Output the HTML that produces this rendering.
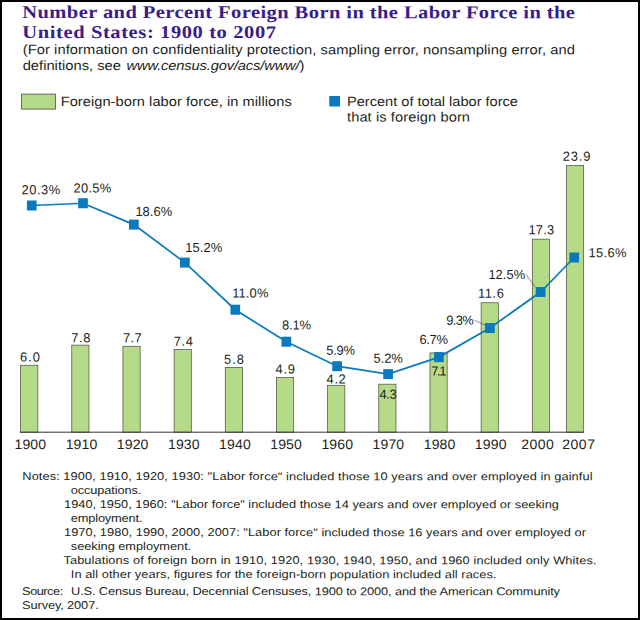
<!DOCTYPE html>
<html><head><meta charset="utf-8"><title>Foreign Born in the Labor Force</title>
<style>
html,body{margin:0;padding:0;background:#fff;}
body{width:640px;height:620px;overflow:hidden;}
svg{display:block;}
text{font-family:"Liberation Sans",sans-serif;fill:#231f20;text-rendering:geometricPrecision;}
.t{font-family:"Liberation Serif",serif;font-weight:bold;fill:#3a1d8a;font-size:18px;text-rendering:geometricPrecision;}
.s{font-size:13.3px;}
.l{font-size:13.3px;}
.d{font-size:13.1px;}
.y{font-size:13.7px;}
.n{font-size:11.3px;}
</style></head><body>
<svg width="640" height="620" viewBox="0 0 640 620">
<rect x="0" y="0" width="640" height="620" fill="#fff"/>
<text class="t" transform="translate(22.30,18.00) rotate(0.03) scale(1.140,1)" textLength="484.82" lengthAdjust="spacing">Number and Percent Foreign Born in the Labor Force in the</text>
<text class="t" transform="translate(22.30,38.00) rotate(0.03) scale(1.140,1)" textLength="222.54" lengthAdjust="spacing">United States: 1900 to 2007</text>
<text class="s" transform="translate(22.70,54.00) rotate(0.03) scale(1.105,1)" textLength="499.82" lengthAdjust="spacing">(For information on confidentiality protection, sampling error, nonsampling error, and</text>
<text class="s" transform="translate(22.70,70.00) rotate(0.03) scale(1.105,1)" textLength="88.87" lengthAdjust="spacing">definitions, see</text>
<text class="s" transform="translate(126.60,70.00) rotate(0.03) scale(1.105,1)" textLength="160.90" lengthAdjust="spacing" font-style="italic">www.census.gov/acs/www/<tspan font-style="normal">)</tspan></text>
<rect x="21.6" y="94.1" width="33.8" height="15" fill="#b5da88" stroke="#4a4a4a" stroke-width="0.8"/>
<text class="l" transform="translate(60.70,106.00) rotate(0.03) scale(1.100,1)" textLength="210.00" lengthAdjust="spacing">Foreign-born labor force, in millions</text>
<rect x="329.25" y="96" width="10.75" height="10.5" fill="#0b79bd"/>
<text class="l" transform="translate(347.00,106.00) rotate(0.03) scale(1.100,1)" textLength="155.45" lengthAdjust="spacing">Percent of total labor force</text>
<text class="l" transform="translate(347.00,121.50) rotate(0.03) scale(1.100,1)" textLength="111.82" lengthAdjust="spacing">that is foreign born</text>
<rect x="20.60" y="365.24" width="17.20" height="66.96" fill="#b5da88" stroke="#4f5545" stroke-width="0.75"/>
<rect x="71.77" y="345.15" width="17.20" height="87.05" fill="#b5da88" stroke="#4f5545" stroke-width="0.75"/>
<rect x="122.94" y="346.27" width="17.20" height="85.93" fill="#b5da88" stroke="#4f5545" stroke-width="0.75"/>
<rect x="174.11" y="349.62" width="17.20" height="82.58" fill="#b5da88" stroke="#4f5545" stroke-width="0.75"/>
<rect x="225.28" y="367.47" width="17.20" height="64.73" fill="#b5da88" stroke="#4f5545" stroke-width="0.75"/>
<rect x="276.45" y="377.52" width="17.20" height="54.68" fill="#b5da88" stroke="#4f5545" stroke-width="0.75"/>
<rect x="327.62" y="385.33" width="17.20" height="46.87" fill="#b5da88" stroke="#4f5545" stroke-width="0.75"/>
<rect x="378.79" y="384.21" width="17.20" height="47.99" fill="#b5da88" stroke="#4f5545" stroke-width="0.75"/>
<rect x="429.96" y="352.96" width="17.20" height="79.24" fill="#b5da88" stroke="#4f5545" stroke-width="0.75"/>
<rect x="481.13" y="302.74" width="17.20" height="129.46" fill="#b5da88" stroke="#4f5545" stroke-width="0.75"/>
<rect x="532.30" y="239.13" width="17.20" height="193.07" fill="#b5da88" stroke="#4f5545" stroke-width="0.75"/>
<rect x="566.45" y="165.48" width="17.20" height="266.72" fill="#b5da88" stroke="#4f5545" stroke-width="0.75"/>
<line x1="20" y1="432.20" x2="583.9" y2="432.20" stroke="#333" stroke-width="1"/>
<polyline points="31.75,205.50 83.00,203.25 133.90,224.60 184.90,262.60 235.30,309.70 286.35,341.70 337.10,366.20 388.10,374.10 439.00,357.10 489.90,328.00 540.60,292.00 574.20,257.50" fill="none" stroke="#0b79bd" stroke-width="1.7"/>
<rect x="26.90" y="200.50" width="9.7" height="10" fill="#0b79bd"/>
<rect x="78.15" y="198.25" width="9.7" height="10" fill="#0b79bd"/>
<rect x="129.05" y="219.60" width="9.7" height="10" fill="#0b79bd"/>
<rect x="180.05" y="257.60" width="9.7" height="10" fill="#0b79bd"/>
<rect x="230.45" y="304.70" width="9.7" height="10" fill="#0b79bd"/>
<rect x="281.50" y="336.70" width="9.7" height="10" fill="#0b79bd"/>
<rect x="332.25" y="361.20" width="9.7" height="10" fill="#0b79bd"/>
<rect x="383.25" y="369.10" width="9.7" height="10" fill="#0b79bd"/>
<rect x="434.15" y="352.10" width="9.7" height="10" fill="#0b79bd"/>
<rect x="485.05" y="323.00" width="9.7" height="10" fill="#0b79bd"/>
<rect x="535.75" y="287.00" width="9.7" height="10" fill="#0b79bd"/>
<rect x="569.35" y="252.50" width="9.7" height="10" fill="#0b79bd"/>
<line x1="526" y1="274.5" x2="535.6" y2="287.4" stroke="#444" stroke-width="0.6"/>
<line x1="474.5" y1="320.3" x2="485.2" y2="325.2" stroke="#444" stroke-width="0.6"/>
<text class="d" transform="translate(20.00,361.55) rotate(0.03) scale(0.985,1)" textLength="20.30" lengthAdjust="spacing">6.0</text>
<text class="d" transform="translate(71.25,342.30) rotate(0.03) scale(0.985,1)" textLength="19.54" lengthAdjust="spacing">7.8</text>
<text class="d" transform="translate(123.00,342.30) rotate(0.03) scale(0.985,1)" textLength="19.04" lengthAdjust="spacing">7.7</text>
<text class="d" transform="translate(173.75,345.80) rotate(0.03) scale(0.985,1)" textLength="19.54" lengthAdjust="spacing">7.4</text>
<text class="d" transform="translate(224.10,363.80) rotate(0.03) scale(0.985,1)" textLength="20.20" lengthAdjust="spacing">5.8</text>
<text class="d" transform="translate(275.50,373.55) rotate(0.03) scale(0.985,1)" textLength="19.80" lengthAdjust="spacing">4.9</text>
<text class="d" transform="translate(326.60,383.50) rotate(0.03) scale(0.985,1)" textLength="19.49" lengthAdjust="spacing">4.2</text>
<text class="d" transform="translate(379.50,398.80) rotate(0.03) scale(0.985,1)" textLength="17.36" lengthAdjust="spacing">4.3</text>
<text class="d" transform="translate(431.20,375.60) rotate(0.03) scale(0.985,1)" textLength="15.53" lengthAdjust="spacing">7.1</text>
<text class="d" transform="translate(478.00,297.80) rotate(0.03) scale(0.985,1)" textLength="26.40" lengthAdjust="spacing">11.6</text>
<text class="d" transform="translate(528.40,234.30) rotate(0.03) scale(0.985,1)" textLength="26.19" lengthAdjust="spacing">17.3</text>
<text class="d" transform="translate(562.80,160.70) rotate(0.03) scale(0.985,1)" textLength="28.02" lengthAdjust="spacing">23.9</text>
<text class="d" transform="translate(21.60,194.30) rotate(0.03) scale(0.985,1)" textLength="39.29" lengthAdjust="spacing">20.3%</text>
<text class="d" transform="translate(73.40,192.40) rotate(0.03) scale(0.985,1)" textLength="38.48" lengthAdjust="spacing">20.5%</text>
<text class="d" transform="translate(135.40,215.90) rotate(0.03) scale(0.985,1)" textLength="37.36" lengthAdjust="spacing">18.6%</text>
<text class="d" transform="translate(185.30,252.00) rotate(0.03) scale(0.985,1)" textLength="37.56" lengthAdjust="spacing">15.2%</text>
<text class="d" transform="translate(232.20,297.60) rotate(0.03) scale(0.985,1)" textLength="36.75" lengthAdjust="spacing">11.0%</text>
<text class="d" transform="translate(281.90,329.50) rotate(0.03) scale(0.985,1)" textLength="29.54" lengthAdjust="spacing">8.1%</text>
<text class="d" transform="translate(326.30,354.70) rotate(0.03) scale(0.985,1)" textLength="29.14" lengthAdjust="spacing">5.9%</text>
<text class="d" transform="translate(373.60,362.70) rotate(0.03) scale(0.985,1)" textLength="29.54" lengthAdjust="spacing">5.2%</text>
<text class="d" transform="translate(419.40,343.90) rotate(0.03) scale(0.985,1)" textLength="29.04" lengthAdjust="spacing">6.7%</text>
<text class="d" transform="translate(446.30,324.80) rotate(0.03) scale(0.985,1)" textLength="27.92" lengthAdjust="spacing">9.3%</text>
<text class="d" transform="translate(488.40,278.90) rotate(0.03) scale(0.985,1)" textLength="37.36" lengthAdjust="spacing">12.5%</text>
<text class="d" transform="translate(588.40,257.30) rotate(0.03) scale(0.985,1)" textLength="38.78" lengthAdjust="spacing">15.6%</text>
<text class="y" transform="translate(14.50,449.00) rotate(0.03) scale(1.025,1)" textLength="30.83" lengthAdjust="spacing">1900</text>
<text class="y" transform="translate(65.65,449.00) rotate(0.03) scale(1.025,1)" textLength="30.83" lengthAdjust="spacing">1910</text>
<text class="y" transform="translate(116.80,449.00) rotate(0.03) scale(1.025,1)" textLength="30.83" lengthAdjust="spacing">1920</text>
<text class="y" transform="translate(167.95,449.00) rotate(0.03) scale(1.025,1)" textLength="30.83" lengthAdjust="spacing">1930</text>
<text class="y" transform="translate(219.10,449.00) rotate(0.03) scale(1.025,1)" textLength="30.83" lengthAdjust="spacing">1940</text>
<text class="y" transform="translate(270.25,449.00) rotate(0.03) scale(1.025,1)" textLength="30.83" lengthAdjust="spacing">1950</text>
<text class="y" transform="translate(321.40,449.00) rotate(0.03) scale(1.025,1)" textLength="30.83" lengthAdjust="spacing">1960</text>
<text class="y" transform="translate(372.55,449.00) rotate(0.03) scale(1.025,1)" textLength="30.83" lengthAdjust="spacing">1970</text>
<text class="y" transform="translate(423.70,449.00) rotate(0.03) scale(1.025,1)" textLength="30.83" lengthAdjust="spacing">1980</text>
<text class="y" transform="translate(474.85,449.00) rotate(0.03) scale(1.025,1)" textLength="30.83" lengthAdjust="spacing">1990</text>
<text class="y" transform="translate(521.20,449.00) rotate(0.03) scale(1.025,1)" textLength="31.71" lengthAdjust="spacing">2000</text>
<text class="y" transform="translate(562.20,449.00) rotate(0.03) scale(1.025,1)" textLength="32.00" lengthAdjust="spacing">2007</text>
<text class="n" transform="translate(22.30,480.00) rotate(0.03) scale(1.135,1)" textLength="502.38" lengthAdjust="spacing" xml:space="preserve">Notes: 1900, 1910, 1920, 1930: &quot;Labor force&quot; included those 10 years and over employed in gainful</text>
<text class="n" transform="translate(70.80,494.00) rotate(0.03) scale(1.135,1)" textLength="62.11" lengthAdjust="spacing" xml:space="preserve">occupations.</text>
<text class="n" transform="translate(64.00,508.00) rotate(0.03) scale(1.135,1)" textLength="436.12" lengthAdjust="spacing" xml:space="preserve">1940, 1950, 1960: &quot;Labor force&quot; included those 14 years and over employed or seeking</text>
<text class="n" transform="translate(70.80,522.00) rotate(0.03) scale(1.135,1)" textLength="63.17" lengthAdjust="spacing" xml:space="preserve">employment.</text>
<text class="n" transform="translate(64.00,536.00) rotate(0.03) scale(1.135,1)" textLength="459.91" lengthAdjust="spacing" xml:space="preserve">1970, 1980, 1990, 2000, 2007: &quot;Labor force&quot; included those 16 years and over employed or</text>
<text class="n" transform="translate(70.80,550.00) rotate(0.03) scale(1.135,1)" textLength="106.17" lengthAdjust="spacing" xml:space="preserve">seeking employment.</text>
<text class="n" transform="translate(63.40,564.00) rotate(0.03) scale(1.135,1)" textLength="469.69" lengthAdjust="spacing" xml:space="preserve">Tabulations of foreign born in 1910, 1920, 1930, 1940, 1950, and 1960 included only Whites.</text>
<text class="n" transform="translate(70.80,578.00) rotate(0.03) scale(1.135,1)" textLength="375.07" lengthAdjust="spacing" xml:space="preserve">In all other years, figures for the foreign-born population included all races.</text>
<text class="n" transform="translate(22.10,595.00) rotate(0.03) scale(1.135,1)" textLength="36.21" lengthAdjust="spacing" xml:space="preserve">Source:</text>
<text class="n" transform="translate(71.00,595.00) rotate(0.03) scale(1.135,1)" textLength="430.84" lengthAdjust="spacing" xml:space="preserve">U.S. Census Bureau, Decennial Censuses, 1900 to 2000, and the American Community</text>
<text class="n" transform="translate(22.10,609.00) rotate(0.03) scale(1.135,1)" textLength="67.49" lengthAdjust="spacing" xml:space="preserve">Survey, 2007.</text>
<path d="M0 0H640V620H0Z M2 2V618H638V2Z" fill="#000" fill-rule="evenodd"/>
</svg></body></html>
